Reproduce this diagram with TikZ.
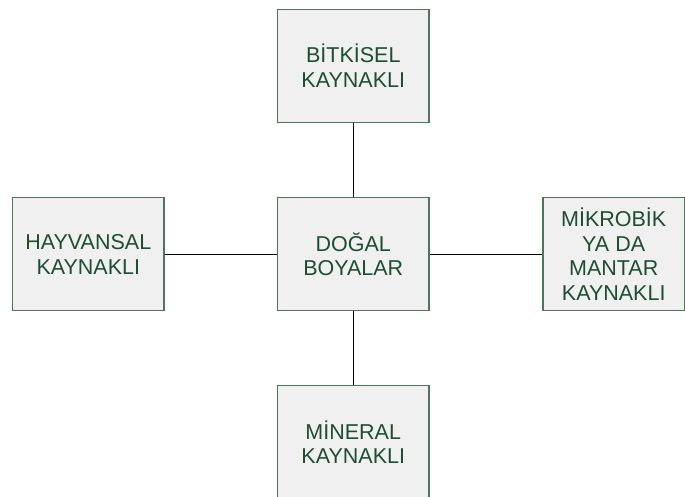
\documentclass[tikz,border=0pt]{standalone}
\usepackage{fontspec}
\setmainfont{Liberation Sans}
\definecolor{boxborder}{RGB}{78,118,92}
\definecolor{boxfill}{RGB}{240,240,240}
\definecolor{boxtext}{RGB}{30,78,50}
\tikzset{
  srcbox/.style={draw=boxborder, line width=1.3pt, fill=boxfill, minimum width=151.5pt, minimum height=113pt, inner sep=0pt, align=center, text=boxtext, font=\fontsize{21.5}{24.8}\selectfont},
  link/.style={draw=black, line width=1pt}
}
\begin{document}
\begin{tikzpicture}[x=1pt,y=-1pt]
\useasboundingbox (0,0) rectangle (685,497);
\begin{scope}
\clip (0,0) rectangle (685,497);
\node[srcbox] (c) at (353.25,254.2) {DOĞAL\\BOYALAR};
\node[srcbox] (t) at (353.25,66) {BİTKİSEL\\KAYNAKLI};
\node[srcbox] (l) at (88.3,254.2) {HAYVANSAL\\KAYNAKLI};
\node[srcbox, minimum width=141.5pt] (r) at (613.7,254.2) {MİKROBİK\\YA DA\\MANTAR\\KAYNAKLI};
\node[srcbox] (b) at (353.25,442.2) {MİNERAL\\KAYNAKLI};
\draw[link] (t.south) -- (c.north);
\draw[link] (c.south) -- (b.north);
\draw[link] (l.east) -- (c.west);
\draw[link] (c.east) -- (r.west);
\end{scope}
\end{tikzpicture}
\end{document}
